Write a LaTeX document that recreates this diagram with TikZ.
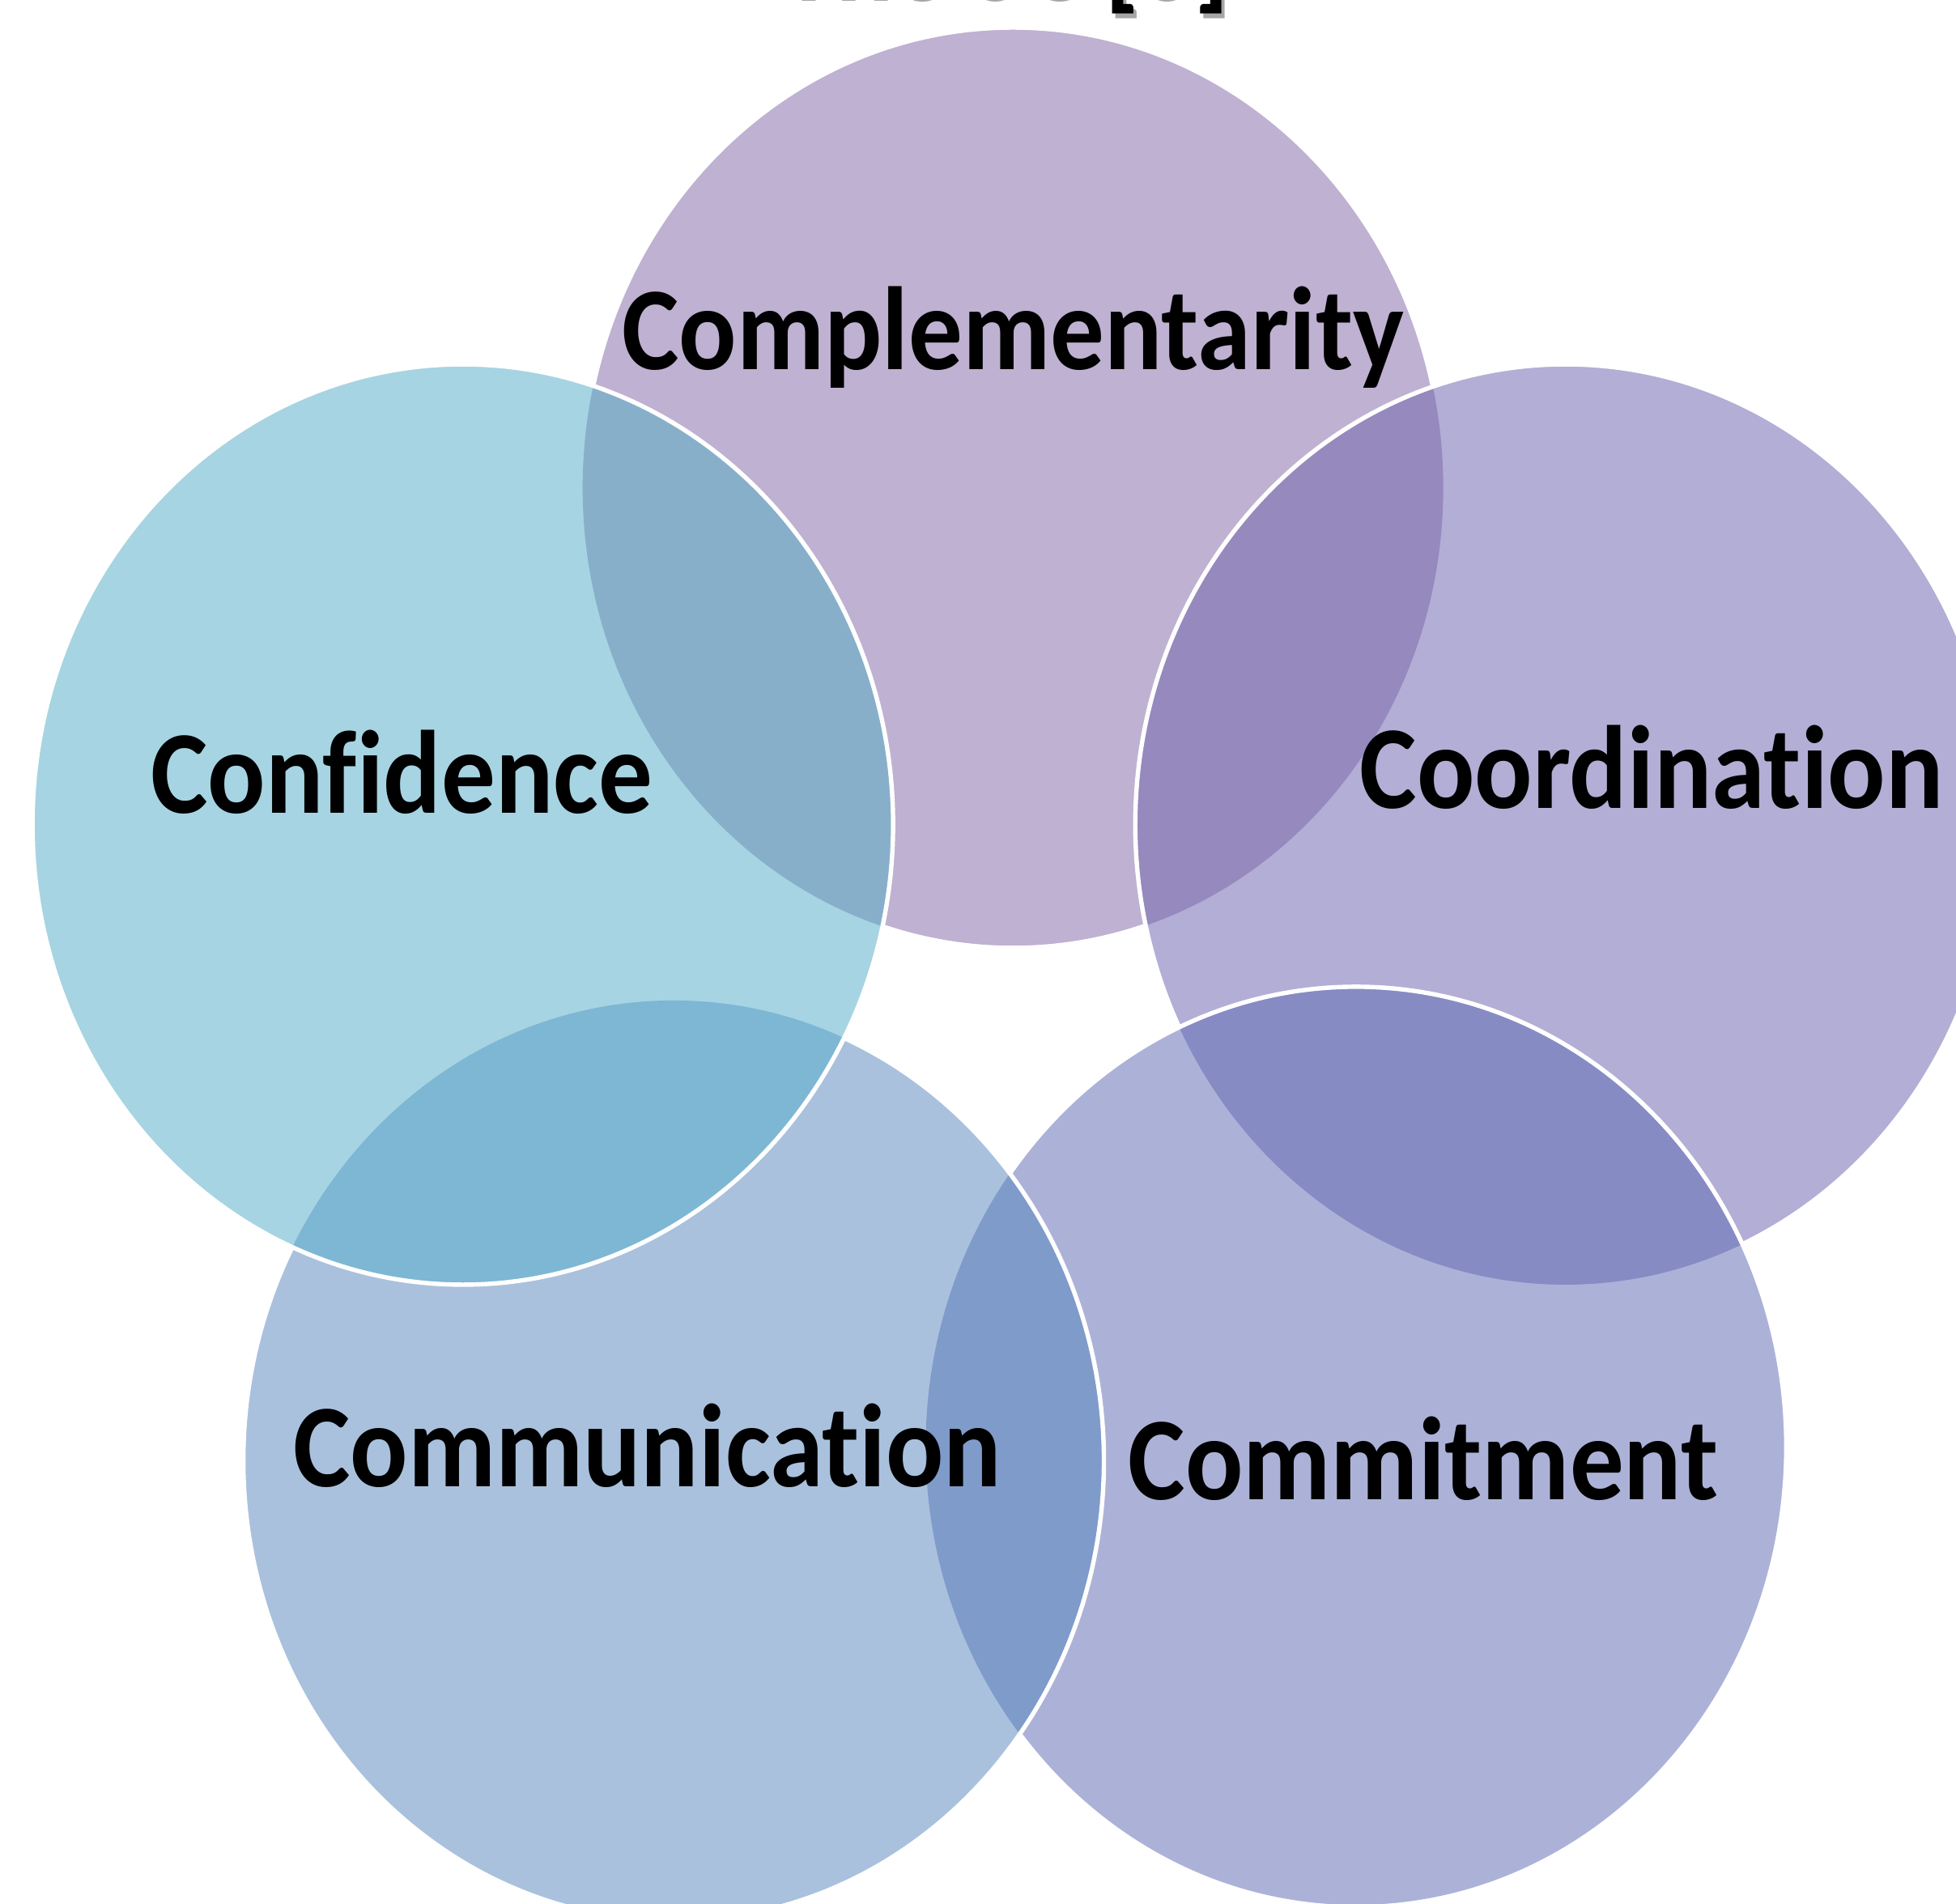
\documentclass[tikz,border=0pt]{standalone}
\usepackage{fontspec}
\setmainfont{Carlito}[Ligatures={NoCommon}]
\definecolor{cCompl}{HTML}{BFB1D1}
\definecolor{cConf}{HTML}{A6D4E2}
\definecolor{cCoord}{HTML}{B2AED5}
\definecolor{cComm}{HTML}{A9C1DD}
\definecolor{cCommit}{HTML}{ACB2D7}
\definecolor{oAE}{HTML}{88AFCA}
\definecolor{oAB}{HTML}{9689BE}
\definecolor{oBC}{HTML}{878BC4}
\definecolor{oCD}{HTML}{7F9BCA}
\definecolor{oDE}{HTML}{7DB7D4}
\newcommand{\sqz}[1]{\scalebox{0.91}[1]{#1}}
\newcommand{\shadowed}[1]{\makebox[0pt][l]{\hspace{1.6pt}\raisebox{-2.4pt}{\color{black!35}\sqz{#1}}}\sqz{#1}}
\tikzset{
  lbl/.style={anchor=base, font=\fontsize{54}{60}\selectfont\bfseries, text=black, inner sep=0pt},
  rim/.style={draw=white, line width=2pt},
  ell/.style={x radius=6.9cm, y radius=7.38cm}
}
\begin{document}
\begin{tikzpicture}[x=0.02cm, y=-0.02cm]
\useasboundingbox (0,0) rectangle (1568,1526);
\begin{scope}
\clip (0,0) rectangle (1568,1526);
% centres
\coordinate (cA) at (812,391);   % Complementarity
\coordinate (cB) at (1255,661);  % Coordination
\coordinate (cC) at (1087,1160); % Commitment
\coordinate (cD) at (540,1171);  % Communication
\coordinate (cE) at (371,661);   % Confidence
% title (cut off at top)
\node[lbl] (title) at (805,-3) {\shadowed{The 5C [5]}};
% 1 Complementarity
\fill[cCompl] (cA) ellipse [ell];
\draw[rim] (cA) ellipse [ell];
% 2 Coordination
\fill[cCoord] (cB) ellipse [ell];
\begin{scope}\clip (cB) ellipse [ell]; \fill[oAB] (cA) ellipse [ell];\end{scope}
\draw[rim] (cB) ellipse [ell];
% 3 Commitment
\fill[cCommit] (cC) ellipse [ell];
\begin{scope}\clip (cC) ellipse [ell]; \fill[oBC] (cB) ellipse [ell];\end{scope}
\draw[rim] (cC) ellipse [ell];
% 4 Communication
\fill[cComm] (cD) ellipse [ell];
\begin{scope}\clip (cD) ellipse [ell]; \fill[oCD] (cC) ellipse [ell];\end{scope}
\draw[rim] (cD) ellipse [ell];
% 5 Confidence
\fill[cConf] (cE) ellipse [ell];
\begin{scope}\clip (cE) ellipse [ell]; \fill[oDE] (cD) ellipse [ell];\end{scope}
\begin{scope}\clip (cE) ellipse [ell]; \fill[oAE] (cA) ellipse [ell];\end{scope}
\draw[rim] (cE) ellipse [ell];
\end{scope}
% labels
\node[lbl] (lCompl) at (812,296) {\sqz{Complementarity}};
\node[lbl] (lConf) at (322,652) {\sqz{Confidence}};
\node[lbl] (lCoord) at (1324,648) {\sqz{Coordination}};
\node[lbl] (lComm) at (519,1192) {\sqz{Communication}};
\node[lbl] (lCommit) at (1141,1202) {\sqz{Commitment}};
\end{tikzpicture}
\end{document}
